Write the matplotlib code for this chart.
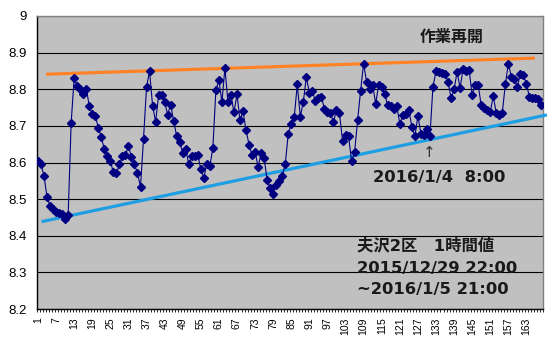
import numpy as np
import matplotlib
matplotlib.use("Agg")
import matplotlib.pyplot as plt

# Hourly dose-rate readings, 2015/12/29 22:00 .. 2016/1/5 21:00 (168 values)
values = [
    8.605, 8.595, 8.563, 8.505, 8.482, 8.473, 8.465, 8.462, 8.460, 8.445,
    8.456, 8.709, 8.831, 8.809, 8.802, 8.786, 8.802, 8.755, 8.732, 8.728,
    8.695, 8.669, 8.636, 8.618, 8.604, 8.573, 8.570, 8.595, 8.617, 8.620,
    8.645, 8.615, 8.595, 8.570, 8.534, 8.665, 8.807, 8.849, 8.755, 8.711,
    8.784, 8.784, 8.765, 8.731, 8.758, 8.713, 8.672, 8.656, 8.626, 8.636,
    8.595, 8.618, 8.618, 8.620, 8.582, 8.558, 8.597, 8.590, 8.640, 8.798,
    8.825, 8.765, 8.858, 8.765, 8.784, 8.737, 8.786, 8.715, 8.740, 8.688,
    8.649, 8.620, 8.629, 8.588, 8.626, 8.612, 8.552, 8.530, 8.514, 8.538,
    8.550, 8.564, 8.595, 8.678, 8.706, 8.725, 8.813, 8.725, 8.766, 8.833,
    8.791, 8.795, 8.767, 8.777, 8.778, 8.747, 8.738, 8.736, 8.711, 8.743,
    8.734, 8.660, 8.675, 8.672, 8.605, 8.628, 8.715, 8.796, 8.870, 8.820,
    8.800, 8.811, 8.761, 8.812, 8.806, 8.786, 8.756, 8.753, 8.747, 8.754,
    8.706, 8.729, 8.732, 8.743, 8.697, 8.672, 8.727, 8.679, 8.675, 8.691,
    8.673, 8.807, 8.849, 8.847, 8.845, 8.843, 8.820, 8.776, 8.800, 8.847,
    8.804, 8.855, 8.849, 8.852, 8.784, 8.812, 8.812, 8.756, 8.748, 8.743,
    8.738, 8.782, 8.734, 8.731, 8.736, 8.813, 8.870, 8.834, 8.829, 8.806,
    8.843, 8.838, 8.815, 8.779, 8.776, 8.776, 8.773, 8.756,
]
categories = list(range(1, len(values) + 1))

x_tick_values = list(range(1, 164, 6))
x_tick_labels = [str(v) for v in x_tick_values]
y_tick_values = [8.2, 8.3, 8.4, 8.5, 8.6, 8.7, 8.8, 8.9, 9.0]
y_tick_labels = ["8.2", "8.3", "8.4", "8.5", "8.6", "8.7", "8.8", "8.9", "9"]

# Hand-drawn guide lines (category index, value) at start and end
upper_guide_x = [3.65, 165.8]
upper_guide_y = [8.841, 8.885]
lower_guide_x = [2.2, 169.8]
lower_guide_y = [8.4385, 8.730]

title_text = "作業再開"
marker_text = "2016/1/4  8:00"
info_lines = ["夫沢2区　1時間値", "2015/12/29 22:00", "~2016/1/5 21:00"]

fam = ["DejaVu Sans", "Noto Sans CJK JP"]

fig = plt.figure(figsize=(5.48, 3.43), dpi=100)
fig.patch.set_facecolor("white")
ax = fig.add_axes([36.5 / 548, 1 - 309 / 343, (543 - 36.5) / 548, (309 - 16) / 343])
ax.set_facecolor("#C0C0C0")

ax.set_xlim(0.5, len(values) + 0.5)
ax.set_ylim(8.2, 9.0)

ax.set_yticks(y_tick_values)
ax.set_yticklabels(y_tick_labels, fontsize=9.5, family="Liberation Sans")
ax.yaxis.grid(True, color="black", linewidth=0.8)
ax.set_axisbelow(True)
ax.tick_params(axis="y", length=0, pad=7)

ax.set_xticks(x_tick_values)
ax.set_xticklabels(x_tick_labels, rotation=90, fontsize=7.5, family="Liberation Sans")
ax.set_xticks(np.arange(0.5, len(values) + 1, 1.0), minor=True)
ax.tick_params(axis="x", which="major", length=0, pad=6)
ax.tick_params(axis="x", which="minor", length=2.5, width=0.6, direction="out", color="black")

for side in ("top", "right"):
    ax.spines[side].set_color("#808080")
    ax.spines[side].set_linewidth(1.0)
for side in ("left", "bottom"):
    ax.spines[side].set_color("black")
    ax.spines[side].set_linewidth(1.0)

ax.plot(upper_guide_x, upper_guide_y, color="#FF8326", linewidth=2.3,
        solid_capstyle="butt", zorder=3)
ax.plot(lower_guide_x, lower_guide_y, color="#1E9FE3", linewidth=2.3,
        solid_capstyle="butt", zorder=3, clip_on=False)

ax.plot(categories, values, color="#000080", linewidth=0.8, marker="D",
        markersize=3.8, markerfacecolor="#000080", markeredgecolor="#000080",
        zorder=4)

ax.text(138.3, 8.929, title_text, fontsize=11.5, fontweight="bold",
        family=fam, color="#1a1a1a", ha="center", va="baseline")
ax.text(130.7, 8.626, "↑", fontsize=11, family=["DejaVu Sans"],
        color="#303030", ha="center", va="center")
ax.text(112.1, 8.5476, marker_text, fontsize=11.8, fontweight="bold",
        family=fam, color="#1a1a1a", ha="left", va="baseline")
for line, base in zip(info_lines, [8.361, 8.2975, 8.241]):
    ax.text(106.8, base, line, fontsize=11.8, fontweight="bold",
            family=fam, color="#1a1a1a", ha="left", va="baseline")

fig.savefig("out.png", dpi=100)
